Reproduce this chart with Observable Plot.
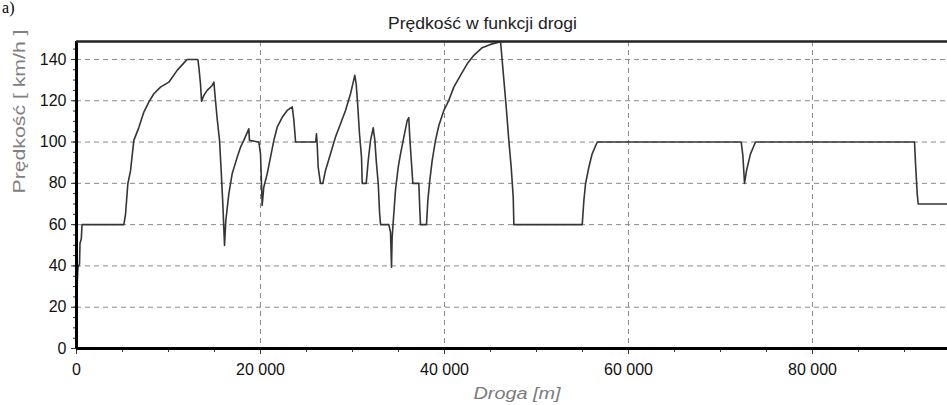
<!DOCTYPE html>
<html>
<head>
<meta charset="utf-8">
<script src="https://cdn.jsdelivr.net/npm/d3@7"></script>
<script src="https://cdn.jsdelivr.net/npm/@observablehq/plot@0.6"></script>
<style>
  html, body { margin: 0; padding: 0; background: #fff; }
  svg { display: block; }
</style>
</head>
<body>
<div id="chart"></div>
<script>
// Distance along the route [m]
const distance = [
  0, 150, 330, 380, 520, 600, 5145, 5330, 5580, 5870,
  6230, 6775, 7320, 7860, 8405, 9130, 10035, 10940, 11850, 12030,
  13190, 13300, 13480, 13590, 13840, 14200, 14750, 14930, 15110, 15290,
  15545, 15725, 15905, 16090, 16230, 16560, 16920, 17470, 17830, 18185,
  18730, 18800, 19820, 20000, 20110, 20180, 20360, 20725, 21090, 21450,
  21815, 22360, 22900, 23450, 23630, 23810, 26000, 26080, 26150, 26270,
  26520, 26775, 27065, 27610, 28150, 28700, 29240, 29785, 30250, 30400,
  30580, 30760, 30980, 31055, 31490, 31710, 31960, 32250, 32430, 32580,
  32800, 32940, 33050, 33950, 34130, 34240, 34310, 34490, 34670, 34970,
  35220, 35580, 35950, 36120, 36230, 36415, 36560, 37210, 37320, 37390,
  38045, 38190, 38400, 38660, 39020, 39385, 39930, 40470, 41010, 41740,
  42470, 43190, 44100, 45000, 45900, 46090, 46270, 46520, 46740, 46990,
  47250, 47470, 47540, 54970, 55150, 55330, 55690, 56050, 56600, 72250,
  72430, 72610, 72830, 73260, 73810, 91090, 91200, 91380, 91490, 94700
];
// Speed [km/h]
const speed = [
  22, 39, 41, 51, 53, 60, 60, 65, 79.8, 86,
  100.8, 107, 114.5, 119.3, 123.4, 126.6, 129, 134.7, 139.2, 140,
  140, 136.3, 128, 119.8, 122.6, 125, 127.4, 129, 120, 111.3,
  100.8, 86.2, 70, 49.9, 62, 75, 84.6, 92.7, 97.5, 100.8,
  106.4, 100.8, 100, 94.3, 79.8, 69.3, 78.2, 84.6, 92.7, 100.8,
  107.2, 112, 115.3, 117, 110.5, 100, 100, 104, 100, 87.8,
  80, 80, 86.2, 94.3, 102.4, 108.9, 115.3, 123.4, 132.3, 128.2,
  117, 104, 92.7, 80, 80, 91, 100.8, 106.9, 100.8, 91,
  79.8, 66, 60, 60, 56.4, 39.4, 54, 65.3, 76.6, 87.8,
  94.3, 102.4, 110.5, 111.8, 101.8, 89.5, 80, 80, 66.9, 60,
  60, 71.7, 81.4, 91, 100.8, 108, 115.3, 120.2, 126.6, 132.3,
  137.9, 142, 145.7, 147.3, 148.4, 148.7, 139.5, 126.6, 115.3, 100.8,
  87.8, 73.3, 60, 60, 71.7, 79.8, 87.8, 94.3, 100, 100,
  93.5, 80, 86.2, 94.3, 100, 100, 89.5, 75, 70, 70
];

const xTicks = [0, 20000, 40000, 60000, 80000];
const xTickLabels = ["0", "20 000", "40 000", "60 000", "80 000"];
const xMinorTicks = [0, 5000, 10000, 15000, 20000, 25000, 30000, 35000, 40000, 45000,
                     50000, 55000, 60000, 65000, 70000, 75000, 80000, 85000, 90000];
const yTicks = [0, 20, 40, 60, 80, 100, 120, 140];
const yMinorTicks = [0, 5, 10, 15, 20, 25, 30, 35, 40, 45, 50, 55, 60, 65, 70, 75,
                     80, 85, 90, 95, 100, 105, 110, 115, 120, 125, 130, 135, 140, 145];
const xDomain = [0, 94674];
const yDomain = [0, 148.7];

const title = "Prędkość w funkcji drogi";
const xLabel = "Droga [m]";
const yLabel = "Prędkość [ km/h ]";
const panelLabel = "a)";

const data = distance.map((d, i) => ({d, v: speed[i]}));

const gridStyle = {stroke: "#8a8a8a", strokeOpacity: 1, strokeWidth: 1, strokeDasharray: "5,4"};
const font = "'Liberation Sans', Arial, sans-serif";

const chart = Plot.plot({
  width: 947,
  height: 405,
  marginLeft: 76,
  marginRight: 0,
  marginTop: 41,
  marginBottom: 57,
  style: {fontFamily: font, fontSize: "16px", background: "#fff", color: "#111"},
  x: {domain: xDomain, label: null},
  y: {domain: yDomain, label: null},
  marks: [
    Plot.gridX(xTicks.slice(1), gridStyle),
    Plot.gridY(yTicks.slice(1), gridStyle),
    Plot.axisX(xMinorTicks, {tickSize: 4, tickFormat: () => "", stroke: "#333", label: null}),
    Plot.axisY(yMinorTicks, {tickSize: 3, tickFormat: () => "", stroke: "#333", label: null}),
    Plot.axisX(xTicks, {
      tickSize: 6, tickPadding: 9, stroke: "#333", fill: "#111", fontSize: 16,
      tickFormat: d => xTickLabels[xTicks.indexOf(d)], label: null
    }),
    Plot.axisY(yTicks, {tickSize: 5, tickPadding: 5, stroke: "#333", fill: "#111", fontSize: 16, label: null}),
    Plot.line(data, {x: "d", y: "v", stroke: "#353535", strokeWidth: 1.6}),
    Plot.ruleX([0], {stroke: "#000", strokeWidth: 3}),
    Plot.ruleY([0], {stroke: "#000", strokeWidth: 3}),
    Plot.ruleY([yDomain[1]], {stroke: "#222", strokeWidth: 2.5}),
    Plot.text([title], {
      frameAnchor: "top", dx: -29.5, dy: -13, lineAnchor: "bottom",
      fill: "#222", fontSize: 17, fontFamily: font
    }),
    Plot.text([xLabel], {
      frameAnchor: "bottom", dx: 5, dy: 50, lineAnchor: "bottom",
      fill: "#7a7a7a", fontSize: 16, fontStyle: "italic", fontFamily: font
    }),
    Plot.text([yLabel], {
      frameAnchor: "left", dx: -52, dy: -1.5, rotate: -90, lineAnchor: "bottom",
      fill: "#808080", fontSize: 17, fontFamily: font
    }),
    Plot.text([panelLabel], {
      frameAnchor: "top-left", dx: -62, dy: -29, textAnchor: "end", lineAnchor: "bottom",
      fill: "#000", fontSize: 16, fontFamily: "'Liberation Serif', 'Times New Roman', serif"
    })
  ]
});

d3.select(chart).selectAll("text").each(function () {
  const t = this.textContent;
  if (t === yLabel) d3.select(this).attr("textLength", 164).attr("lengthAdjust", "spacingAndGlyphs");
  if (t === xLabel) d3.select(this).attr("textLength", 87).attr("lengthAdjust", "spacingAndGlyphs");
  if (t === title) d3.select(this).attr("textLength", 189).attr("lengthAdjust", "spacingAndGlyphs");
});

document.getElementById("chart").appendChild(chart);
</script>
</body>
</html>
